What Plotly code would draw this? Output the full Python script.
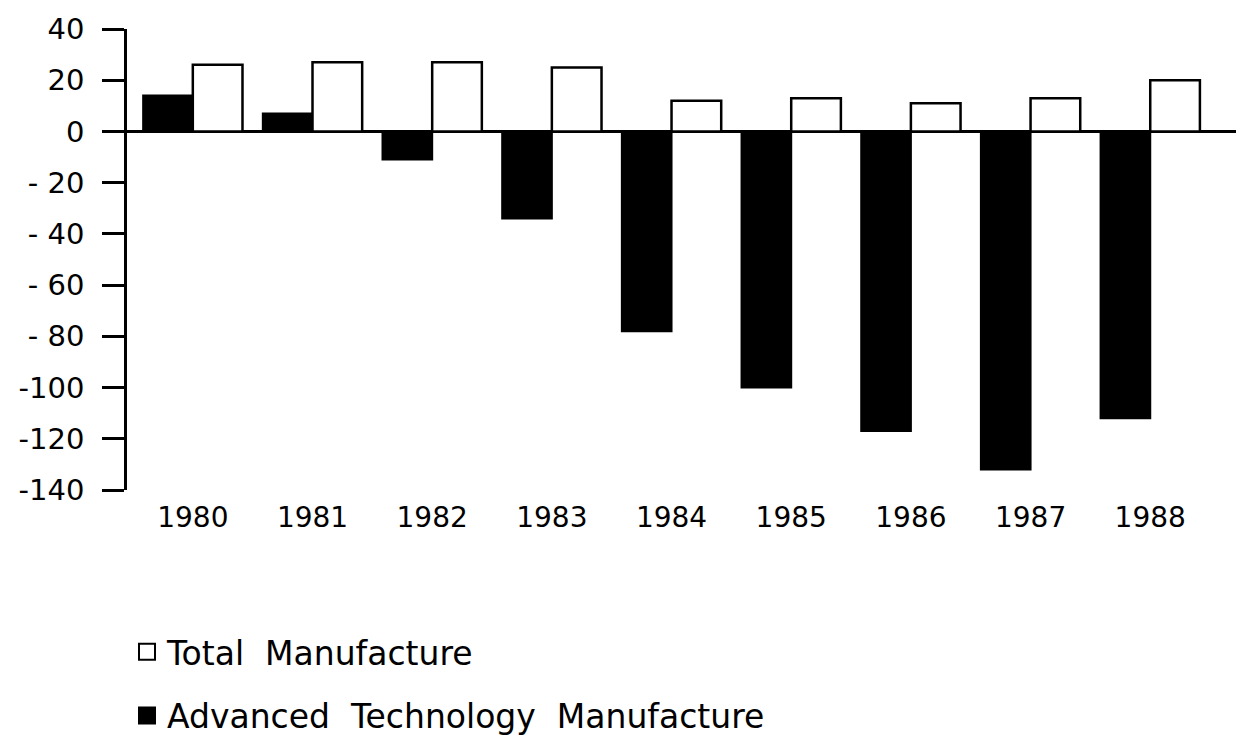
import plotly.graph_objects as go

years = ["1980", "1981", "1982", "1983", "1984", "1985", "1986", "1987", "1988"]
advanced_tech = [14, 7, -11, -34, -78, -100, -117, -132, -112]
total_manuf = [26, 27, 27, 25, 12, 13, 11, 13, 20]

y_tickvals = [40, 20, 0, -20, -40, -60, -80, -100, -120, -140]
y_ticktext = ["40", "20", "0", "- 20", "- 40", "- 60", "- 80", "-100", "-120", "-140"]

FONT = "DejaVu Sans, Liberation Sans, sans-serif"

fig = go.Figure()
fig.add_trace(go.Bar(
    x=years, y=advanced_tech, name="Advanced  Technology  Manufacture",
    marker=dict(color="black", line=dict(color="black", width=2)),
    showlegend=False,
))
fig.add_trace(go.Bar(
    x=years, y=total_manuf, name="Total  Manufacture",
    marker=dict(color="white", line=dict(color="black", width=2.5)),
    showlegend=False,
))
# legend entries (larger square symbols)
fig.add_trace(go.Scatter(
    x=[None], y=[None], mode="markers", name="Total  Manufacture",
    marker=dict(symbol="square", size=16, color="white", line=dict(color="black", width=2)),
    legendrank=1, legendgroup="b",
))
fig.add_trace(go.Scatter(
    x=[None], y=[None], mode="markers", name="Advanced  Technology  Manufacture",
    marker=dict(symbol="square", size=16, color="black", line=dict(color="black", width=2)),
    legendrank=2, legendgroup="a",
))

fig.update_layout(
    width=1236, height=732,
    paper_bgcolor="white", plot_bgcolor="white",
    margin=dict(l=119, r=4, t=21, b=250, autoexpand=False),
    barmode="group", bargap=0.17, bargroupgap=0,
    font=dict(family=FONT, color="black", size=28),
    showlegend=True,
    legend=dict(
        x=0.0, y=-0.29, xanchor="left", yanchor="top",
        tracegroupgap=18, itemsizing="trace",
        font=dict(family=FONT, size=33, color="black"),
        bgcolor="rgba(0,0,0,0)",
    ),
    xaxis=dict(
        type="category", range=[-0.55, 8.75],
        showline=False, showgrid=False, zeroline=False,
        ticks="", ticklabelstandoff=8, tickangle=0,
        tickfont=dict(family=FONT, size=28, color="black"),
    ),
    yaxis=dict(
        range=[-140, 40], tickvals=y_tickvals, ticktext=y_ticktext,
        showline=True, linecolor="black", linewidth=2.5,
        ticks="outside", ticklen=22, tickwidth=2.5, tickcolor="black",
        ticklabelstandoff=12,
        showgrid=False,
        zeroline=True, zerolinecolor="black", zerolinewidth=2.5,
        tickfont=dict(family=FONT, size=29, color="black"),
    ),
)

fig.write_html("out.html")
